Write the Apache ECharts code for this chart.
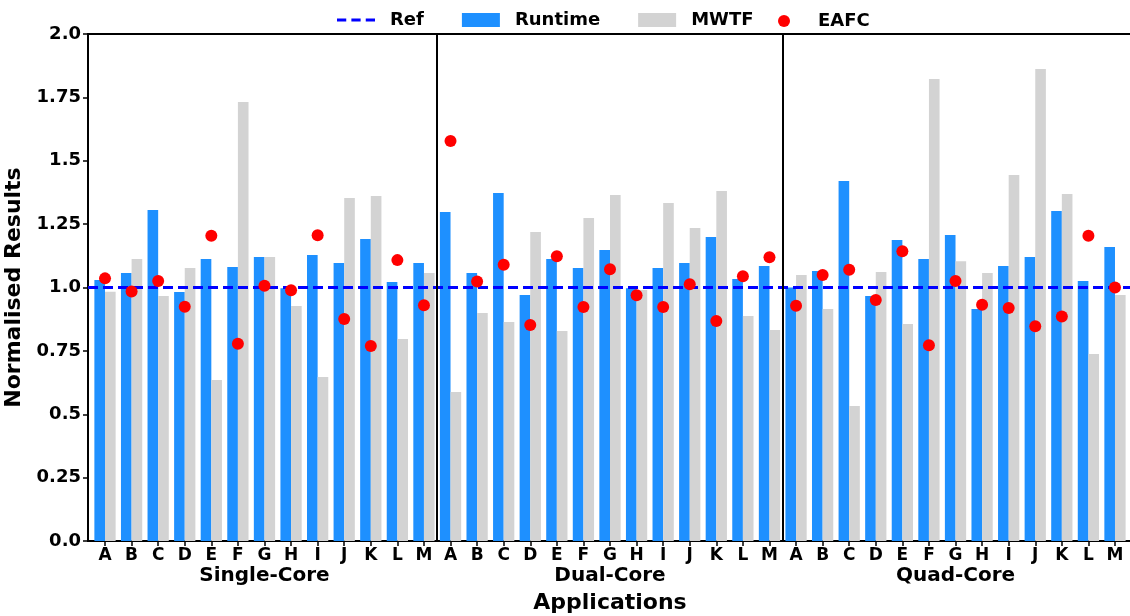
<!DOCTYPE html>
<html>
<head>
<meta charset="utf-8">
<script src="https://cdn.jsdelivr.net/npm/echarts@6/dist/echarts.min.js"></script>
<style>
  html, body { margin: 0; padding: 0; background: #ffffff; }
  #chart { width: 1130px; height: 616px; }
</style>
</head>
<body>
<div id="chart"></div>
<script>
// Applications run under each core configuration
const apps = ['A', 'B', 'C', 'D', 'E', 'F', 'G', 'H', 'I', 'J', 'K', 'L', 'M'];
const configs = ['Single-Core', 'Dual-Core', 'Quad-Core'];

// Normalised results, Single-Core A..M, then Dual-Core A..M, then Quad-Core A..M
const runtime = [
  1.03, 1.057, 1.306, 0.982, 1.112, 1.081, 1.12, 0.997, 1.128, 1.097, 1.191, 1.022, 1.097,
  1.298, 1.057, 1.373, 0.97, 1.112, 1.077, 1.148, 0.997, 1.077, 1.097, 1.199, 1.034, 1.085,
  1.0, 1.065, 1.42, 0.966, 1.187, 1.112, 1.207, 0.915, 1.085, 1.12, 1.302, 1.026, 1.16
];
const mwtf = [
  0.983, 1.112, 0.966, 1.077, 0.635, 1.732, 1.12, 0.927, 0.647, 1.353, 1.361, 0.797, 1.057,
  0.588, 0.899, 0.864, 1.219, 0.828, 1.274, 1.365, 0.99, 1.333, 1.235, 1.381, 0.888, 0.832,
  1.049, 0.915, 0.533, 1.061, 0.856, 1.822, 1.104, 1.057, 1.444, 1.862, 1.369, 0.738, 0.97
];
const eafc = [
  1.036, 0.984, 1.026, 0.924, 1.204, 0.778, 1.007, 0.989, 1.206, 0.876, 0.769, 1.108, 0.93,
  1.578, 1.024, 1.09, 0.852, 1.123, 0.923, 1.072, 0.969, 0.923, 1.013, 0.868, 1.044, 1.119,
  0.928, 1.049, 1.07, 0.951, 1.143, 0.772, 1.026, 0.932, 0.919, 0.847, 0.886, 1.204, 1.0
];
const refValue = 1.0;

// Y axis ticks and their printed labels
const yTicks = [0, 0.25, 0.5, 0.75, 1.0, 1.25, 1.5, 1.75, 2.0];
const yTickLabels = ['0.0', '0.25', '0.5', '0.75', '1.0', '1.25', '1.5', '1.75', '2.0'];

// Derived layout helpers
const xLetters = configs.flatMap(() => apps);
const xIdx = xLetters.map((_, i) => i);
const xMin = -0.64;
const xMax = xLetters.length - 1 + 0.64;
const groupCenters = configs.map((_, g) => g * apps.length + (apps.length - 1) / 2);
const groupBounds = configs.slice(1).map((_, g) => (g + 1) * apps.length - 0.5);

const FONT = 'DejaVu Sans';
// dashed-line glyph for the reference entry in the legend
const DASH_ICON = 'path://M0,0H9V3H0Z M14,0H23V3H14Z M28,0H37V3H28Z';
const legendText = { fontFamily: FONT, fontWeight: 'bold', fontSize: 18, color: '#000', padding: [0, 0, 0, 10] };

const chart = echarts.init(document.getElementById('chart'), null, { renderer: 'canvas' });

chart.setOption({
  animation: false,
  backgroundColor: '#ffffff',
  grid: {
    left: 88, top: 34, width: 1044, height: 507,
    outerBoundsMode: 'none', containLabel: false,
    show: true, borderColor: '#000000', borderWidth: 2, backgroundColor: 'transparent'
  },
  legend: [
    {
      data: [
        { name: 'Ref', icon: DASH_ICON },
        { name: 'Runtime', icon: 'rect' },
        { name: 'MWTF', icon: 'rect' }
      ],
      left: 332, top: 6,
      itemWidth: 38, itemHeight: 14, itemGap: 38,
      textStyle: legendText
    },
    {
      data: [{ name: 'EAFC', icon: 'circle' }],
      left: 773, top: 7,
      itemWidth: 38, itemHeight: 12,
      textStyle: legendText
    }
  ],
  xAxis: [
    {
      type: 'value', min: xMin, max: xMax,
      position: 'bottom',
      splitLine: { show: false },
      axisLine: { show: true, onZero: false, lineStyle: { color: '#000', width: 2 } },
      axisTick: { show: true, customValues: xIdx, length: 5, lineStyle: { color: '#000', width: 1.5 } },
      axisLabel: {
        customValues: xIdx,
        formatter: (v) => xLetters[Math.round(v)],
        margin: 6,
        fontFamily: FONT, fontWeight: 'bold', fontSize: 17, color: '#000'
      }
    },
    {
      type: 'value', min: xMin, max: xMax,
      position: 'bottom',
      splitLine: { show: false },
      axisLine: { show: false, onZero: false },
      axisTick: { show: false },
      axisLabel: {
        customValues: groupCenters,
        formatter: (v) => configs[Math.round((v - (apps.length - 1) / 2) / apps.length)],
        margin: 25,
        fontFamily: FONT, fontWeight: 'bold', fontSize: 20, color: '#000'
      },
      name: 'Applications',
      nameLocation: 'middle',
      nameGap: 51,
      nameTextStyle: { fontFamily: FONT, fontWeight: 'bold', fontSize: 22, color: '#000' }
    }
  ],
  yAxis: {
    type: 'value', min: 0, max: 2, interval: 0.25,
    splitLine: { show: false },
    axisLine: { show: true, onZero: false, lineStyle: { color: '#000', width: 2 } },
    axisTick: { show: true, length: 5, lineStyle: { color: '#000', width: 1.5 } },
    axisLabel: {
      formatter: (v) => yTickLabels[yTicks.indexOf(v)],
      margin: 7,
      fontFamily: FONT, fontWeight: 'bold', fontSize: 18, color: '#000'
    },
    name: 'Normalised Results',
    nameLocation: 'middle',
    nameGap: 58,
    nameTextStyle: { fontFamily: FONT, fontWeight: 'bold', fontSize: 22, color: '#000' }
  },
  series: [
    {
      name: 'Runtime', type: 'bar', xAxisIndex: 0,
      data: runtime.map((v, i) => [i, v]),
      barWidth: '40%', barGap: '0%',
      itemStyle: { color: '#1E90FF' }
    },
    {
      name: 'MWTF', type: 'bar', xAxisIndex: 0,
      data: mwtf.map((v, i) => [i, v]),
      barWidth: '40%', barGap: '0%',
      itemStyle: { color: '#D3D3D3' }
    },
    {
      name: 'Ref', type: 'line', xAxisIndex: 0,
      data: [[xMin, refValue], [xMax, refValue]],
      symbol: 'none', showSymbol: false,
      lineStyle: { color: '#0000FF', width: 3, type: [10, 5] },
      itemStyle: { color: '#0000FF' },
      z: 3,
      // vertical separators between the core configurations
      markLine: {
        silent: true, symbol: 'none',
        label: { show: false },
        lineStyle: { color: '#000', width: 2, type: 'solid' },
        data: groupBounds.map((b) => ({ xAxis: b }))
      }
    },
    {
      name: 'EAFC', type: 'scatter', xAxisIndex: 0,
      data: eafc.map((v, i) => [i, v]),
      symbol: 'circle', symbolSize: 12,
      itemStyle: { color: '#FF0000', opacity: 1 },
      z: 4
    }
  ]
});
</script>
</body>
</html>
